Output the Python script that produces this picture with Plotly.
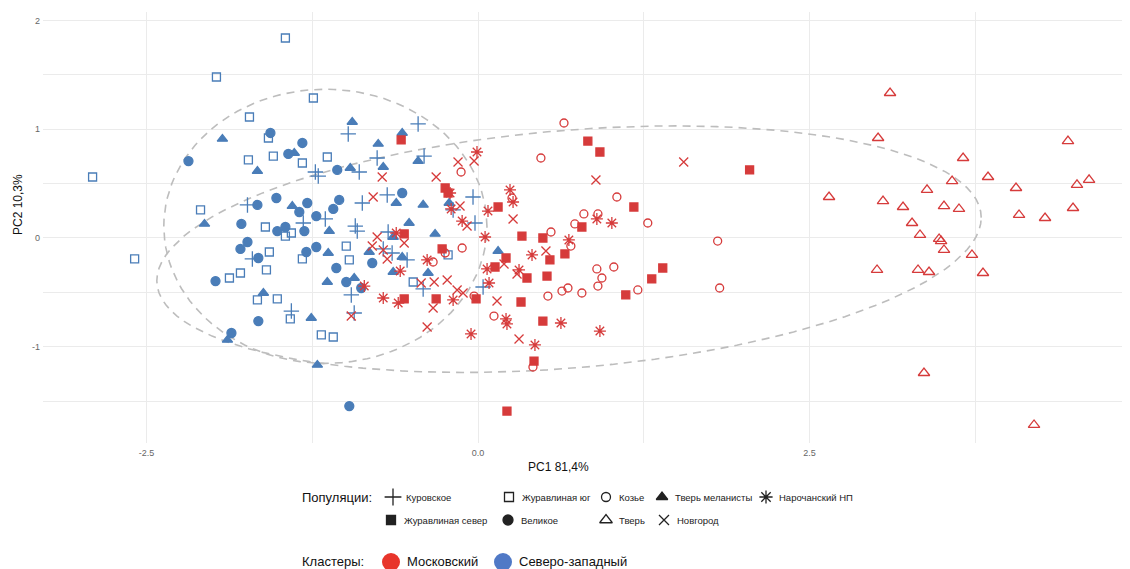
import numpy as np
import plotly.graph_objects as go

# ---------------- data (PC1, PC2) ----------------
kurovskoe_x = [-0.452, -0.979, -0.761, -0.407, -1.227, -1.205, -0.896, -1.739, -1.318, -1.152, -0.873, -0.685, -0.038, -0.188, -0.926, -0.911, -0.678, -0.715, -0.648, -0.535, -0.023, -1.702, -0.414, -0.956, -1.408, -0.934, 0.038]
kurovskoe_y = [1.049, 0.957, 0.736, 0.754, 0.607, 0.570, 0.607, 0.304, 0.138, 0.175, 0.322, 0.396, 0.377, 0.258, 0.110, 0.064, 0.055, -0.101, -0.138, -0.202, 0.138, -0.193, -0.469, -0.524, -0.672, -0.690, -0.451]

zhur_yug_x = [-1.453, -1.973, -2.907, -2.590, -1.242, -1.724, -1.581, -1.732, -1.544, -1.325, -1.137, -2.093, -1.604, -1.453, -1.408, -1.574, -1.325, -0.994, -0.971, -1.792, -1.875, -1.596, -1.664, -1.514, -1.416, -1.182, -1.092, -0.489, -0.226]
zhur_yug_y = [1.840, 1.481, 0.561, -0.193, 1.288, 1.113, 0.920, 0.718, 0.754, 0.690, 0.745, 0.258, 0.101, 0.018, 0.046, -0.129, -0.193, -0.074, -0.202, -0.322, -0.368, -0.294, -0.570, -0.561, -0.745, -0.892, -0.911, -0.405, -0.156]

velikoe_x = [-1.566, -2.184, -1.325, -1.431, -1.062, -0.572, -1.664, -1.521, -1.288, -1.348, -1.092, -1.047, -1.220, -1.785, -1.514, -1.453, -1.310, -1.739, -1.792, -1.657, -1.220, -1.295, -0.798, -1.069, -0.994, -0.881, -1.980, -1.657, -1.860, -0.971]
velikoe_y = [0.966, 0.708, 0.874, 0.773, 0.626, 0.414, 0.304, 0.368, 0.322, 0.239, 0.267, 0.350, 0.202, 0.129, 0.064, 0.101, 0.064, -0.037, -0.101, -0.184, -0.083, -0.129, -0.230, -0.276, -0.405, -0.460, -0.396, -0.764, -0.874, -1.546]

tver_mel_x = [-1.928, -1.664, -1.386, -0.949, -0.572, -0.753, -0.964, -0.715, -0.452, -2.063, -1.401, -1.122, -1.130, -0.617, -0.414, -0.218, -0.520, -0.324, -0.640, -0.821, -0.572, -0.640, -0.377, -0.934, -1.137, 0.151, -1.619, -1.258, -1.890, -1.212]
tver_mel_y = [0.911, 0.616, 0.782, 1.067, 0.966, 0.865, 0.644, 0.653, 0.708, 0.129, 0.294, 0.064, -0.138, 0.322, 0.304, 0.322, 0.138, 0.037, 0.009, -0.129, -0.175, -0.313, -0.322, -0.368, -0.405, -0.120, -0.506, -0.736, -0.938, -1.168]

zhur_sever_x = [-0.580, 0.828, 0.919, -0.248, -0.226, 0.151, 0.331, 0.489, 0.783, 1.175, -0.557, -0.271, 0.211, 0.542, 0.128, 0.655, 0.369, 0.520, -0.557, -0.316, -0.015, 0.324, 0.489, 1.114, 1.310, 1.393, 0.422, 0.218, 2.048]
zhur_sever_y = [0.902, 0.892, 0.791, 0.460, 0.414, 0.285, 0.018, 0.000, 0.101, 0.285, 0.037, -0.101, -0.184, -0.202, -0.267, -0.147, -0.368, -0.350, -0.561, -0.561, -0.561, -0.589, -0.764, -0.524, -0.377, -0.276, -1.132, -1.592, 0.626]

koze_x = [0.648, 0.474, -0.128, 0.256, 1.047, 0.798, 0.904, 0.730, 0.550, 0.700, 1.280, -0.120, -0.248, -0.339, 0.896, 1.024, 0.934, 0.904, 0.678, 0.633, 0.527, 0.783, 1.205, -0.030, 0.120, 0.414, 1.807, 1.822]
koze_y = [1.058, 0.736, 0.607, 0.368, 0.377, 0.221, 0.221, 0.129, 0.055, -0.074, 0.138, -0.092, -0.138, -0.221, -0.285, -0.267, -0.368, -0.442, -0.460, -0.488, -0.534, -0.506, -0.478, -0.534, -0.718, -1.187, -0.028, -0.460]

tver_x = [3.107, 3.017, 4.449, 3.658, 3.846, 3.575, 4.057, 4.608, 4.517, 3.386, 2.647, 3.054, 3.205, 3.514, 3.627, 4.080, 4.276, 4.487, 3.273, 3.333, 3.477, 3.492, 3.514, 3.725, 3.009, 3.318, 3.401, 3.808, 3.363, 4.193]
tver_y = [1.334, 0.920, 0.892, 0.736, 0.561, 0.524, 0.460, 0.534, 0.488, 0.442, 0.377, 0.340, 0.285, 0.294, 0.267, 0.212, 0.184, 0.276, 0.138, 0.028, -0.009, -0.028, -0.110, -0.156, -0.294, -0.294, -0.313, -0.322, -1.242, -1.720]

novgorod_x = [-0.151, -0.030, -0.316, 0.889, -0.723, -0.791, -0.136, -0.083, 0.264, -0.761, -0.798, -0.557, -0.715, -0.685, 0.512, 0.196, 0.294, -0.429, -0.331, -0.233, -0.158, -0.113, -0.339, 0.143, -0.956, -0.384, 0.309, 1.551]
novgorod_y = [0.699, 0.708, 0.561, 0.534, 0.561, 0.377, 0.294, 0.110, 0.175, 0.009, -0.074, -0.046, -0.110, -0.193, -0.120, -0.239, -0.331, -0.414, -0.405, -0.386, -0.478, -0.506, -0.644, -0.580, -0.718, -0.819, -0.929, 0.699]

naroch_x = [-0.008, 0.241, 0.264, -0.211, -0.203, -0.120, 0.075, 0.053, 0.685, 0.896, 1.009, 0.407, 0.309, 0.068, 0.083, -0.617, -0.587, -0.384, -0.858, -0.715, -0.602, -0.188, 0.211, 0.218, 0.625, 0.919, -0.053, 0.429]
naroch_y = [0.791, 0.442, 0.331, 0.414, 0.267, 0.156, 0.248, 0.009, -0.018, 0.175, 0.138, -0.156, -0.294, -0.285, -0.414, 0.046, -0.304, -0.202, -0.442, -0.552, -0.598, -0.570, -0.745, -0.791, -0.782, -0.856, -0.883, -0.984]

# population name, x, y, symbol, cluster
populations = [
    ("Куровское", kurovskoe_x, kurovskoe_y, "cross-thin-open", "nw"),
    ("Журавлиная юг", zhur_yug_x, zhur_yug_y, "square-open", "nw"),
    ("Великое", velikoe_x, velikoe_y, "circle", "nw"),
    ("Тверь меланисты", tver_mel_x, tver_mel_y, "triangle-up", "nw"),
    ("Журавлиная север", zhur_sever_x, zhur_sever_y, "square", "msk"),
    ("Козье", koze_x, koze_y, "circle-open", "msk"),
    ("Тверь", tver_x, tver_y, "triangle-up-open", "msk"),
    ("Новгород", novgorod_x, novgorod_y, "x-thin-open", "msk"),
    ("Нарочанский НП", naroch_x, naroch_y, "asterisk-open", "msk"),
]

cluster_colors = {"msk": "#d63b3b", "nw": "#4a7db8"}
symbol_size = {"cross-thin-open": 11, "square-open": 8, "circle": 9, "triangle-up": 9,
               "square": 8, "circle-open": 8, "triangle-up-open": 10, "x-thin-open": 9,
               "asterisk-open": 10}

x_tick_labels = ["-2.5", "0.0", "2.5"]
y_tick_labels = ["-1", "0", "1", "2"]

# The page places the figure 8px from the top-left corner of the window,
# so the figure is 8px smaller and all layout positions are expressed in window pixels.
OFF = 8
WIN_W, WIN_H = 1130, 569
W, H = WIN_W - OFF, WIN_H - OFF


def fx(px):
    return (px - OFF) / W


def fy(py):
    return 1 - (py - OFF) / H


# ------------- ggplot2-style stat_ellipse (t-distribution, cov.trob) -------------
def cov_trob(X, nu=5, maxit=25, tol=0.01):
    n, p = X.shape
    loc = X.mean(axis=0)
    w = np.ones(n)
    for _ in range(maxit):
        w0 = w
        Xc = X - loc
        S = (Xc * (w / w.sum())[:, None]).T @ Xc
        Q = np.einsum("ij,jk,ik->i", Xc, np.linalg.inv(S), Xc)
        w = (nu + p) / (nu + Q)
        loc = (w[:, None] * X).sum(axis=0) / w.sum()
        if np.all(np.abs(w - w0) < tol):
            break
    cov = (Xc * w[:, None]).T @ Xc / n
    return loc, cov


def ellipse(xs, ys, level=0.95, segments=120):
    X = np.column_stack([xs, ys])
    n = X.shape[0]
    loc, cov = cov_trob(X)
    dfd = n - 1
    fq = dfd / 2 * ((1 - level) ** (-2 / dfd) - 1)
    r = np.sqrt(2 * fq)
    L = np.linalg.cholesky(cov)
    a = np.linspace(0, 2 * np.pi, segments + 1)
    circ = np.vstack([np.cos(a), np.sin(a)])
    pts = loc[:, None] + r * (L @ circ)
    return pts[0], pts[1]


fig = go.Figure()

for cl in ["nw", "msk"]:
    xs = sum([p[1] for p in populations if p[4] == cl], [])
    ys = sum([p[2] for p in populations if p[4] == cl], [])
    ex, ey = ellipse(np.array(xs), np.array(ys))
    fig.add_trace(go.Scatter(x=ex, y=ey, mode="lines", hoverinfo="skip", showlegend=False,
                             line=dict(color="#bdbdbd", width=1.6, dash="8px,6px")))

for name, xs, ys, sym, cl in populations:
    fig.add_trace(go.Scatter(
        x=xs, y=ys, mode="markers", name=name, showlegend=False,
        marker=dict(symbol=sym, size=symbol_size[sym], color=cluster_colors[cl],
                    line=dict(color=cluster_colors[cl], width=1.3))))

# ------------- legend drawn in a second, pixel-based subplot -------------
leg_rows = [497, 520]
leg_items = [
    ("Куровское", "cross-thin-open", 393, 0),
    ("Журавлиная юг", "square-open", 509, 0),
    ("Козье", "circle-open", 606, 0),
    ("Тверь меланисты", "triangle-up", 662, 0),
    ("Нарочанский НП", "asterisk-open", 766, 0),
    ("Журавлиная север", "square", 391, 1),
    ("Великое", "circle", 508, 1),
    ("Тверь", "triangle-up-open", 606, 1),
    ("Новгород", "x-thin-open", 664, 1),
]
for name, sym, px, row in leg_items:
    fig.add_trace(go.Scatter(
        x=[px], y=[leg_rows[row]], xaxis="x2", yaxis="y2", mode="markers", showlegend=False,
        hoverinfo="skip",
        marker=dict(symbol=sym, size=symbol_size[sym] + 1, color="#222222",
                    line=dict(color="#222222", width=1.3))))
    fig.add_annotation(x=px + 11, y=leg_rows[row], xref="x2", yref="y2", text=name,
                       showarrow=False, xanchor="left", yanchor="middle",
                       font=dict(size=9.5, color="#222222"))

fig.add_annotation(x=300, y=leg_rows[0], xref="x2", yref="y2", text="Популяции:",
                   showarrow=False, xanchor="left", yanchor="middle",
                   font=dict(size=13, color="#111111"))

clusters_legend = [("Московский", "#e8352b", 391), ("Северо-западный", "#5079c6", 503)]
clus_row = 561
fig.add_annotation(x=300, y=clus_row, xref="x2", yref="y2", text="Кластеры:",
                   showarrow=False, xanchor="left", yanchor="middle",
                   font=dict(size=13, color="#111111"))
for name, col, px in clusters_legend:
    fig.add_trace(go.Scatter(x=[px], y=[clus_row + 1], xaxis="x2", yaxis="y2", mode="markers",
                             showlegend=False, hoverinfo="skip", cliponaxis=False,
                             marker=dict(symbol="circle", size=18, color=col)))
    fig.add_annotation(x=px + 14, y=clus_row, xref="x2", yref="y2", text=name,
                       showarrow=False, xanchor="left", yanchor="middle",
                       font=dict(size=13, color="#111111"))

# ------------- axis titles -------------
fig.add_annotation(x=fx(558), y=fy(467), xref="paper", yref="paper", text="PC1 81,4%",
                   xanchor="center", yanchor="middle",
                   showarrow=False, font=dict(size=12, color="#111111"))
fig.add_annotation(x=fx(18), y=fy(205), xref="paper", yref="paper", text="PC2 10,3%",
                   xanchor="center", yanchor="middle",
                   showarrow=False, textangle=-90, font=dict(size=12, color="#111111"))

grid = "#ebebeb"
fig.update_layout(
    width=W, height=H,
    margin=dict(l=0, r=0, t=0, b=0, autoexpand=False),
    paper_bgcolor="white", plot_bgcolor="rgba(0,0,0,0)",
    font=dict(family="Liberation Sans, Arial, sans-serif"),
    xaxis=dict(domain=[fx(43), fx(1125)], range=[-3.281, 4.879], automargin=False,
               tickvals=[-2.5, -1.25, 0, 1.25, 2.5, 3.75],
               ticktext=[x_tick_labels[0], "", x_tick_labels[1], "", x_tick_labels[2], ""],
               showgrid=True, gridcolor=grid, gridwidth=1, zeroline=False, showline=False,
               ticks="", ticklabelstandoff=3, tickfont=dict(size=9, color="#666666"), anchor="y"),
    yaxis=dict(domain=[fy(443), fy(12)], range=[-1.886, 2.079], automargin=False,
               tickvals=[-1.5, -1, -0.5, 0, 0.5, 1, 1.5, 2],
               ticktext=["", y_tick_labels[0], "", y_tick_labels[1], "", y_tick_labels[2], "", y_tick_labels[3]],
               showgrid=True, gridcolor=grid, gridwidth=1, zeroline=False, showline=False,
               ticks="", ticklabelstandoff=2, tickfont=dict(size=9, color="#666666"), anchor="x"),
    xaxis2=dict(domain=[0, 1], range=[OFF, WIN_W], visible=False, anchor="y2", automargin=False),
    yaxis2=dict(domain=[0, fy(475)], range=[WIN_H, 475], visible=False, anchor="x2", automargin=False),
    showlegend=False,
)

fig.write_html("out.html")
